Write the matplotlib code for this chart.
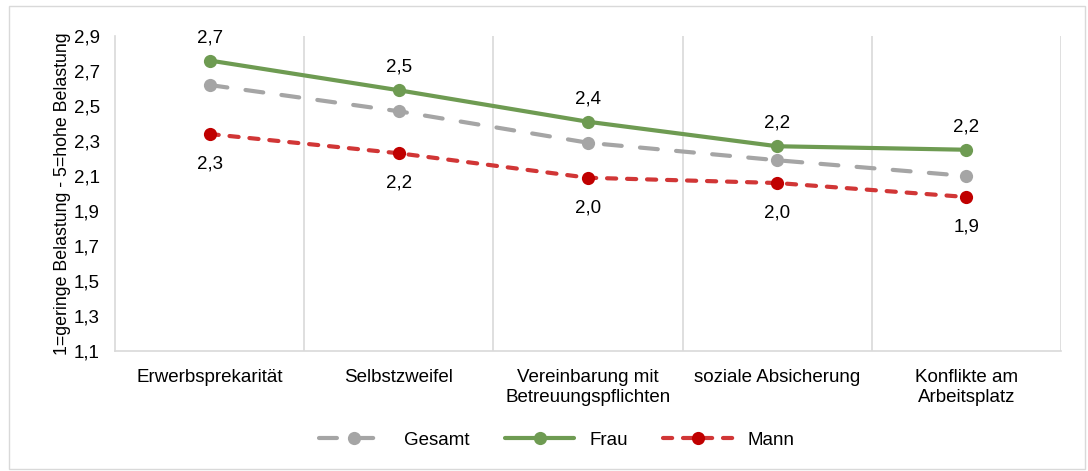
import matplotlib
matplotlib.use("Agg")
import matplotlib.pyplot as plt
from matplotlib.patches import Rectangle

plt.rcParams['font.family'] = ['Liberation Sans', 'DejaVu Sans']

categories = ["Erwerbsprekarität", "Selbstzweifel", "Vereinbarung mit\nBetreuungspflichten",
              "soziale Absicherung", "Konflikte am\nArbeitsplatz"]
gesamt = [2.62, 2.47, 2.29, 2.19, 2.10]
frau = [2.76, 2.59, 2.41, 2.27, 2.25]
mann = [2.34, 2.23, 2.09, 2.06, 1.98]
frau_labels = ["2,7", "2,5", "2,4", "2,2", "2,2"]
mann_labels = ["2,3", "2,2", "2,0", "2,0", "1,9"]
yticks = [1.1, 1.3, 1.5, 1.7, 1.9, 2.1, 2.3, 2.5, 2.7, 2.9]

W, H = 1088, 471
FS = 13.5
fig = plt.figure(figsize=(W / 100, H / 100), dpi=100)
ax = fig.add_axes([115 / W, 1 - 351 / H, (1061 - 115) / W, (351 - 36) / H])

fig.patches.append(Rectangle((9 / W, 2 / H), (1085 - 9) / W, (465 - 2) / H,
                             transform=fig.transFigure, fill=False,
                             edgecolor="#d9d9d9", linewidth=1))

x = list(range(len(categories)))
c_gesamt = "#a5a5a5"
c_frau = "#6e9b52"
c_mann = "#d13636"

ax.plot(x, gesamt, color=c_gesamt, lw=3, ls=(0, (4.3, 4.4)), dash_capstyle="round",
        marker="o", ms=9.5, markeredgewidth=0, label="Gesamt", zorder=3)
ax.plot(x, frau, color=c_frau, lw=3, solid_capstyle="round",
        marker="o", ms=9.5, markeredgewidth=0, label="Frau", zorder=4)
ax.plot(x, mann, color=c_mann, lw=3, ls=(0, (2.2, 2.6)), dash_capstyle="round",
        marker="o", ms=9.5, markerfacecolor="#c00000", markeredgewidth=0,
        label="Mann", zorder=3)

for xi, v, t in zip(x, frau, frau_labels):
    ax.annotate(t, (xi, v), xytext=(0, 23), textcoords="offset pixels",
                ha="center", va="center", fontsize=FS, color="#000000")
for xi, v, t in zip(x, mann, mann_labels):
    ax.annotate(t, (xi, v), xytext=(0, -30), textcoords="offset pixels",
                ha="center", va="center", fontsize=FS, color="#000000")

ax.set_xlim(-0.5, len(categories) - 0.5)
ax.set_ylim(1.1, 2.9)
ax.set_yticks(yticks)
ax.set_yticklabels([f"{v:.1f}".replace(".", ",") for v in yticks], fontsize=FS)
ax.set_xticks(x)
ax.set_xticklabels(categories, fontsize=FS, va="top", linespacing=1.2)
ax.tick_params(axis="both", length=0)
ax.tick_params(axis="x", pad=13)
ax.tick_params(axis="y", pad=11)

for b in [i + 0.5 for i in range(len(categories))]:
    ax.axvline(b, color="#d9d9d9", lw=1.2, zorder=1)

for s in ["top", "right"]:
    ax.spines[s].set_visible(False)
for s in ["left", "bottom"]:
    ax.spines[s].set_color("#d9d9d9")
    ax.spines[s].set_linewidth(1.2)

ax.set_ylabel("1=geringe Belastung - 5=hohe Belastung", fontsize=12.8, labelpad=2)

handles, labels = ax.get_legend_handles_labels()
fig.legend(handles, labels, loc="center", bbox_to_anchor=(0.512, 1 - 440 / H),
           ncol=3, frameon=False, fontsize=FS, handlelength=3.7,
           columnspacing=1.9, handletextpad=0.8)

fig.savefig("out.png", dpi=100)
